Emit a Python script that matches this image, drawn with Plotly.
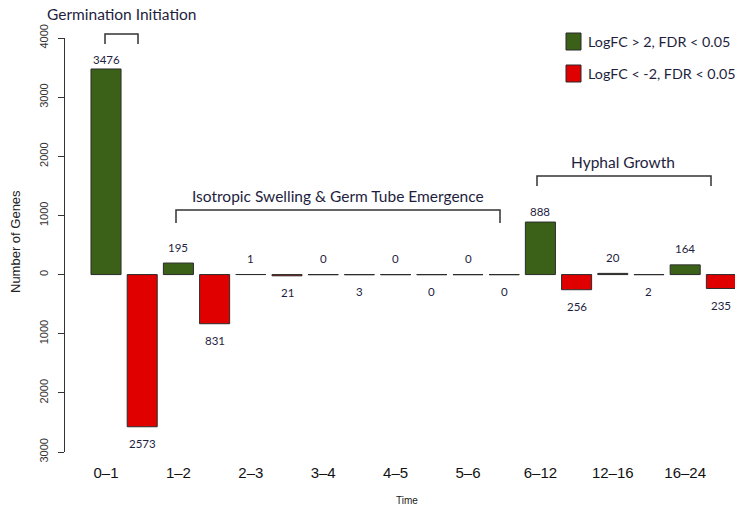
import plotly.graph_objects as go

time_labels = ['0–1', '1–2', '2–3', '3–4', '4–5', '5–6', '6–12', '12–16', '16–24']
up_counts = [3476, 195, 1, 0, 0, 0, 888, 20, 164]
down_counts = [2573, 831, 21, 3, 0, 0, 256, 2, 235]
y_ticks = [-3000, -2000, -1000, 0, 1000, 2000, 3000, 4000]

legend_up = 'LogFC > 2, FDR < 0.05'
legend_down = 'LogFC < -2, FDR < 0.05'
phases = [
    ('Germination Initiation', 105, 138, 34, 44, 121, 14),
    ('Isotropic Swelling & Germ Tube Emergence', 176, 500, 210, 223, 338, 196),
    ('Hyphal Growth', 537, 711, 176, 186, 623, 162),
]

GREEN = '#3b6119'
RED = '#e00000'
EDGE = '#2b2b2b'
NAVY = '#1e1e40'

W, H = 735, 507
ML, MR, MT, MB = 65, 0, 38, 55
PW, PH = W - ML - MR, H - MT - MB


def px_x(px):
    return (px - ML) / PW


def px_y(py):
    return (H - MB - py) / PH


def note(fig, px, py, text, font, **kw):
    opts = dict(xanchor='center', yanchor='middle')
    opts.update(kw)
    fig.add_annotation(xref='paper', yref='paper', x=px_x(px), y=px_y(py), text=text,
                       showarrow=False, font=font, **opts)


up_pos = [2 * i for i in range(len(time_labels))]
down_pos = [2 * i + 1 for i in range(len(time_labels))]
bar_w = 0.83

fig = go.Figure()
fig.add_trace(go.Bar(
    x=up_pos, y=up_counts, width=bar_w, name=legend_up,
    marker=dict(color=GREEN, line=dict(color=EDGE, width=1)),
    showlegend=False,
))
fig.add_trace(go.Bar(
    x=down_pos, y=[-v for v in down_counts], width=bar_w, name=legend_down,
    marker=dict(color=RED, line=dict(color=EDGE, width=1)),
    showlegend=False,
))

# zero-height bars drawn as flat outlines, like R does
zx, zy = [], []
for pos, vals in ((up_pos, up_counts), (down_pos, down_counts)):
    for p, v in zip(pos, vals):
        if v == 0:
            zx += [p - bar_w / 2, p + bar_w / 2, None]
            zy += [0, 0, None]
fig.add_trace(go.Scatter(x=zx, y=zy, mode='lines', line=dict(color=EDGE, width=1.2),
                         hoverinfo='skip', showlegend=False))

label_font = dict(family='Lato, Liberation Sans', size=11.5, color=NAVY)
special_shift = {3476: 9, 888: 11}
for p, v in zip(up_pos, up_counts):
    fig.add_annotation(x=p, y=v, text=str(v), showarrow=False, font=label_font,
                       xanchor='center', yanchor='middle', yshift=special_shift.get(v, 16))
for p, v in zip(down_pos, down_counts):
    fig.add_annotation(x=p, y=-v, text=str(v), showarrow=False, font=label_font,
                       xanchor='center', yanchor='middle', yshift=-17)

title_font = dict(family='Lato, Liberation Sans', size=15.5, color=NAVY)

# phase brackets and titles
for title, x0, x1, ytop, ybot, tx, ty in phases:
    fig.add_shape(
        type='path', xref='paper', yref='paper',
        path=f'M {px_x(x0)},{px_y(ybot)} L {px_x(x0)},{px_y(ytop)} '
             f'L {px_x(x1)},{px_y(ytop)} L {px_x(x1)},{px_y(ybot)}',
        line=dict(color='#333333', width=1.5),
    )
    note(fig, tx, ty, title, title_font)

# legend drawn by hand
for i, (txt, col) in enumerate(((legend_up, GREEN), (legend_down, RED))):
    y0 = 33 + 32 * i
    fig.add_shape(type='rect', xref='paper', yref='paper',
                  x0=px_x(566), x1=px_x(581), y0=px_y(y0), y1=px_y(y0 + 17),
                  fillcolor=col, line=dict(color=EDGE, width=1))
    note(fig, 586, y0 + 8.5, txt, dict(family='Lato, Liberation Sans', size=14.3, color=NAVY),
         xanchor='left')

note(fig, 407, 500, 'Time', dict(family='Liberation Sans', size=10, color='#222'))
note(fig, 15, 242, 'Number of Genes', dict(family='Liberation Sans', size=13, color='#222'),
     textangle=-90)

fig.update_xaxes(
    range=[-1.133, 17.376], showline=False, showgrid=False, zeroline=False,
    tickmode='array', tickvals=up_pos, ticktext=time_labels,
    ticks='outside', ticklen=7, tickcolor='rgba(0,0,0,0)',
    tickfont=dict(family='Liberation Sans', size=15, color='#111'),
)
fig.update_yaxes(
    range=[-3000, 4000], showline=True, linecolor='#333', linewidth=1,
    showgrid=False, zeroline=False,
    tickmode='array', tickvals=y_ticks, ticktext=[str(abs(t)) for t in y_ticks],
    ticks='outside', ticklen=6, tickcolor='#333', tickangle=-90, ticklabelstandoff=6,
    tickfont=dict(family='Liberation Sans', size=11, color='#333'),
)
fig.update_layout(
    width=W, height=H, margin=dict(l=ML, r=MR, t=MT, b=MB, autoexpand=False),
    plot_bgcolor='white', paper_bgcolor='white', barmode='overlay',
)
fig.write_html('out.html', config={'displayModeBar': False},
               post_script="document.body.style.margin='0';")
